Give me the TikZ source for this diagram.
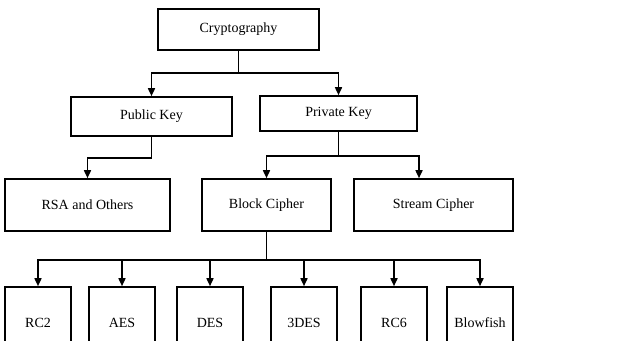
\documentclass[tikz,border=0pt]{standalone}
\usepackage{fontspec}
\setmainfont{Liberation Serif}
\usetikzlibrary{arrows.meta}
\usetikzlibrary{positioning}

\tikzset{
  box/.style={draw, line width=1.6pt, inner sep=0pt, align=center,
    font=\fontsize{14}{16}\selectfont},
  arr/.style={line width=1.6pt, -{Triangle[length=8pt,width=7pt]}},
  link/.style={line width=1.6pt}
}

\begin{document}
\begin{tikzpicture}[x=1pt,y=-1pt]
  \clip (0,0) rectangle (644,340);
  \fill[white] (0,0) rectangle (644,340);
  % top levels
  \node[box, minimum width=161pt, minimum height=41pt] (crypto) at (238.5,29.5) {Cryptography};
  \node[box, minimum width=161pt, minimum height=39pt] (pub) at (151.5,116.5) {Public Key};
  \node[box, minimum width=157pt, minimum height=35pt] (priv) at (338.5,113.5) {Private Key};
  \node[box, minimum width=165pt, minimum height=52pt] (rsa) at (87.5,205) {RSA and Others};
  \node[box, minimum width=129pt, minimum height=52pt] (block) at (266.5,205) {Block Cipher};
  \node[box, minimum width=159pt, minimum height=52pt] (stream) at (433.5,205) {Stream Cipher};
  % block ciphers
  \foreach \name/\x/\txt in {rc2/38/RC2, aes/122/AES, des/210/DES,
      tdes/304/3DES, rc6/394/RC6, blow/480/Blowfish}{
    \node[box, minimum width=66pt, minimum height=72pt] (\name) at (\x,323) {\txt};
  }
  % connectors
  \draw[link] (crypto.south) -- ++(0,22) coordinate (cs);
  \draw[arr] (cs) -| (pub.north);
  \draw[arr] (cs) -| (priv.north);
  \draw[link] (pub.south) -- ++(0,21) coordinate (ps);
  \draw[arr] (ps) -| (rsa.north);
  \draw[link] (priv.south) -- ++(0,24) coordinate (vs);
  \draw[arr] (vs) -| (block.north);
  \draw[arr] (vs) -| ([xshift=-14.5pt]stream.north);
  \draw[link] (block.south) -- ++(0,28) coordinate (bs);
  \foreach \name in {rc2,aes,des,tdes,rc6,blow}{
    \draw[arr] (bs) -| (\name.north);
  }
\end{tikzpicture}
\end{document}
